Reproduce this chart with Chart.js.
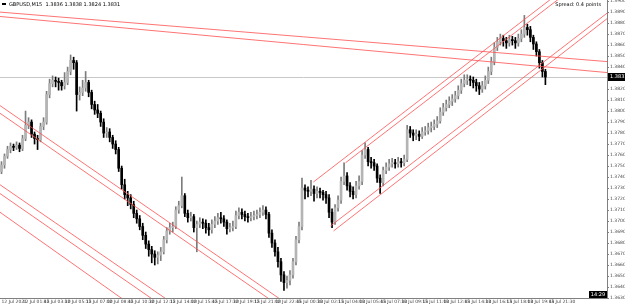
<!DOCTYPE html>
<html>
<head>
<meta charset="utf-8">
<script src="https://cdn.jsdelivr.net/npm/chart.js@4.4.1/dist/chart.umd.min.js"></script>
<style>
  html, body { margin: 0; padding: 0; background: #fff; }
  #wrap { width: 625px; height: 304px; }
</style>
</head>
<body>
<div id="wrap"><canvas id="grafico" width="625" height="304"></canvas></div>
<script>
// GBPUSD M15 candles
var opens = [
  1.3745,1.3751,1.3759,1.3765,1.3768,1.3767,1.3769,1.3766,1.3775,1.3787,
  1.3790,1.3779,1.3775,1.3774,1.3786,1.3790,1.3815,1.3825,1.3828,1.3827,
  1.3826,1.3823,1.3826,1.3836,1.3846,1.3844,1.3815,1.3817,1.3821,1.3826,
  1.3817,1.3806,1.3801,1.3798,1.3790,1.3780,1.3781,1.3776,1.3770,1.3765,
  1.3748,1.3733,1.3724,1.3721,1.3715,1.3707,1.3702,1.3695,1.3687,1.3679,
  1.3674,1.3670,1.3667,1.3669,1.3672,1.3683,1.3691,1.3694,1.3695,1.3710,
  1.3714,1.3723,1.3707,1.3703,1.3704,1.3694,1.3697,1.3699,1.3698,1.3694,
  1.3692,1.3697,1.3700,1.3703,1.3702,1.3699,1.3693,1.3694,1.3695,1.3705,
  1.3708,1.3706,1.3704,1.3703,1.3704,1.3705,1.3706,1.3708,1.3710,1.3706,
  1.3689,1.3680,1.3672,1.3663,1.3651,1.3644,1.3646,1.3651,1.3663,1.3683,
  1.3695,1.3730,1.3728,1.3727,1.3729,1.3725,1.3727,1.3726,1.3724,1.3721,
  1.3708,1.3699,1.3712,1.3719,1.3736,1.3741,1.3732,1.3727,1.3724,1.3732,
  1.3736,1.3760,1.3765,1.3754,1.3753,1.3750,1.3739,1.3735,1.3746,1.3749,
  1.3752,1.3753,1.3752,1.3754,1.3753,1.3756,1.3783,1.3780,1.3778,1.3779,
  1.3777,1.3781,1.3782,1.3785,1.3786,1.3788,1.3791,1.3799,1.3803,1.3806,
  1.3809,1.3811,1.3814,1.3819,1.3825,1.3828,1.3829,1.3828,1.3826,1.3823,
  1.3820,1.3823,1.3828,1.3836,1.3845,1.3858,1.3863,1.3866,1.3864,1.3862,
  1.3865,1.3864,1.3862,1.3866,1.3870,1.3876,1.3874,1.3867,1.3861,1.3854,
  1.3844,1.3836
];
var highs = [
  1.3754,1.3761,1.3768,1.3771,1.3770,1.3772,1.3771,1.3778,1.3800,1.3794,
  1.3792,1.3781,1.3778,1.3789,1.3794,1.3818,1.3829,1.3832,1.3831,1.3830,
  1.3828,1.3835,1.3840,1.3851,1.3849,1.3846,1.3822,1.3828,1.3836,1.3828,
  1.3819,1.3809,1.3806,1.3800,1.3793,1.3785,1.3784,1.3778,1.3773,1.3767,
  1.3750,1.3738,1.3727,1.3724,1.3718,1.3710,1.3705,1.3698,1.3690,1.3682,
  1.3677,1.3673,1.3672,1.3676,1.3686,1.3694,1.3698,1.3699,1.3713,1.3718,
  1.3740,1.3725,1.3710,1.3708,1.3706,1.3700,1.3703,1.3702,1.3701,1.3698,
  1.3701,1.3704,1.3707,1.3708,1.3705,1.3701,1.3698,1.3700,1.3709,1.3712,
  1.3711,1.3709,1.3707,1.3708,1.3709,1.3710,1.3712,1.3714,1.3713,1.3708,
  1.3692,1.3683,1.3676,1.3666,1.3654,1.3650,1.3655,1.3666,1.3686,1.3699,
  1.3739,1.3733,1.3731,1.3737,1.3732,1.3731,1.3730,1.3728,1.3727,1.3724,
  1.3711,1.3715,1.3723,1.3740,1.3753,1.3744,1.3735,1.3731,1.3736,1.3741,
  1.3764,1.3771,1.3767,1.3758,1.3756,1.3752,1.3742,1.3749,1.3753,1.3756,
  1.3757,1.3756,1.3758,1.3757,1.3760,1.3787,1.3786,1.3783,1.3783,1.3782,
  1.3785,1.3786,1.3789,1.3790,1.3792,1.3795,1.3803,1.3807,1.3810,1.3813,
  1.3815,1.3818,1.3823,1.3829,1.3833,1.3833,1.3832,1.3831,1.3829,1.3826,
  1.3827,1.3832,1.3840,1.3849,1.3862,1.3867,1.3870,1.3869,1.3867,1.3869,
  1.3868,1.3867,1.3870,1.3874,1.3887,1.3879,1.3877,1.3869,1.3863,1.3856,
  1.3846,1.3838
];
var lows = [
  1.3743,1.3748,1.3757,1.3762,1.3764,1.3765,1.3763,1.3764,1.3773,1.3784,
  1.3776,1.3770,1.3765,1.3772,1.3783,1.3788,1.3812,1.3822,1.3822,1.3819,
  1.3819,1.3820,1.3824,1.3833,1.3838,1.3800,1.3810,1.3814,1.3818,1.3813,
  1.3802,1.3797,1.3794,1.3786,1.3776,1.3776,1.3772,1.3766,1.3761,1.3745,
  1.3729,1.3720,1.3714,1.3711,1.3703,1.3698,1.3692,1.3683,1.3675,1.3668,
  1.3662,1.3660,1.3661,1.3664,1.3670,1.3680,1.3688,1.3690,1.3693,1.3707,
  1.3712,1.3704,1.3699,1.3700,1.3690,1.3672,1.3694,1.3693,1.3689,1.3687,
  1.3689,1.3694,1.3697,1.3698,1.3695,1.3688,1.3690,1.3691,1.3693,1.3702,
  1.3702,1.3700,1.3699,1.3700,1.3701,1.3702,1.3703,1.3705,1.3702,1.3685,
  1.3676,1.3668,1.3658,1.3645,1.3637,1.3639,1.3642,1.3648,1.3660,1.3680,
  1.3692,1.3720,1.3722,1.3723,1.3718,1.3721,1.3721,1.3719,1.3716,1.3703,
  1.3694,1.3697,1.3709,1.3716,1.3733,1.3728,1.3722,1.3720,1.3721,1.3729,
  1.3733,1.3757,1.3750,1.3748,1.3746,1.3735,1.3725,1.3732,1.3743,1.3746,
  1.3749,1.3748,1.3749,1.3749,1.3750,1.3754,1.3776,1.3773,1.3774,1.3773,
  1.3775,1.3778,1.3779,1.3781,1.3783,1.3785,1.3789,1.3796,1.3800,1.3803,
  1.3805,1.3808,1.3811,1.3816,1.3822,1.3824,1.3823,1.3821,1.3818,1.3815,
  1.3817,1.3820,1.3825,1.3833,1.3842,1.3855,1.3860,1.3859,1.3857,1.3859,
  1.3860,1.3857,1.3859,1.3863,1.3867,1.3869,1.3863,1.3856,1.3850,1.3839,
  1.3831,1.3824
];
var closes = [
  1.3751,1.3759,1.3765,1.3768,1.3767,1.3769,1.3766,1.3775,1.3787,1.3790,
  1.3779,1.3775,1.3774,1.3786,1.3790,1.3815,1.3825,1.3828,1.3827,1.3826,
  1.3823,1.3826,1.3836,1.3846,1.3844,1.3815,1.3817,1.3821,1.3826,1.3817,
  1.3806,1.3801,1.3798,1.3790,1.3780,1.3781,1.3776,1.3770,1.3765,1.3748,
  1.3733,1.3724,1.3721,1.3715,1.3707,1.3702,1.3695,1.3687,1.3679,1.3674,
  1.3670,1.3667,1.3669,1.3672,1.3683,1.3691,1.3694,1.3695,1.3710,1.3714,
  1.3723,1.3707,1.3703,1.3704,1.3694,1.3697,1.3699,1.3698,1.3694,1.3692,
  1.3697,1.3700,1.3703,1.3702,1.3699,1.3693,1.3694,1.3695,1.3705,1.3708,
  1.3706,1.3704,1.3703,1.3704,1.3705,1.3706,1.3708,1.3710,1.3706,1.3689,
  1.3680,1.3672,1.3663,1.3651,1.3644,1.3646,1.3651,1.3663,1.3683,1.3695,
  1.3730,1.3728,1.3727,1.3729,1.3725,1.3727,1.3726,1.3724,1.3721,1.3708,
  1.3699,1.3712,1.3719,1.3736,1.3741,1.3732,1.3727,1.3724,1.3732,1.3736,
  1.3760,1.3765,1.3754,1.3753,1.3750,1.3739,1.3735,1.3746,1.3749,1.3752,
  1.3753,1.3752,1.3754,1.3753,1.3756,1.3783,1.3780,1.3778,1.3779,1.3777,
  1.3781,1.3782,1.3785,1.3786,1.3788,1.3791,1.3799,1.3803,1.3806,1.3809,
  1.3811,1.3814,1.3819,1.3825,1.3828,1.3829,1.3828,1.3826,1.3823,1.3820,
  1.3823,1.3828,1.3836,1.3845,1.3858,1.3863,1.3866,1.3864,1.3862,1.3865,
  1.3864,1.3862,1.3866,1.3870,1.3876,1.3874,1.3867,1.3861,1.3854,1.3844,
  1.3836,1.3831
];

// time axis: one label every 7 bars
var tickLabels = [
  "12 Jul 2021","12 Jul 01:45","12 Jul 03:30","12 Jul 05:15","12 Jul 07:00",
  "12 Jul 08:45","12 Jul 10:30","12 Jul 12:15","12 Jul 14:00","12 Jul 15:45",
  "12 Jul 17:30","12 Jul 19:15","12 Jul 21:00","12 Jul 22:45","13 Jul 00:30",
  "13 Jul 02:15","13 Jul 04:00","13 Jul 05:45","13 Jul 07:30","13 Jul 09:15",
  "13 Jul 11:00","13 Jul 12:45","13 Jul 14:30","13 Jul 16:15","13 Jul 18:00",
  "13 Jul 19:45","13 Jul 21:30"
];
var barsPerLabel = 7;
var totalSlots = 202; // bars + empty space on the right (chart shift)

var priceTicks = [
  1.3630,1.3640,1.3650,1.3660,1.3670,1.3680,1.3690,1.3700,1.3710,1.3720,
  1.3730,1.3740,1.3750,1.3760,1.3770,1.3780,1.3790,1.3800,1.3810,1.3820,
  1.3830,1.3840,1.3850,1.3860,1.3870,1.3880,1.3890,1.3900
];

// trendlines drawn on the chart: [barIndex, price] pairs
var trendlines = [
  [[-0.5, 1.3890], [201.5, 1.3845]],
  [[-0.5, 1.3886], [201.5, 1.3835]],
  [[109.5, 1.36955], [201.5, 1.3889]],
  [[110.5, 1.3691], [201.5, 1.3884]],
  [[103.8, 1.37355], [190.5, 1.3918]],
  [[114.5, 1.3753], [195, 1.3922]],
  [[-0.5, 1.3805], [98, 1.3619]],
  [[-0.5, 1.3798], [95, 1.3618]],
  [[-0.5, 1.3733], [60.2, 1.3619]],
  [[-0.5, 1.3725], [55.5, 1.3619]],
  [[-0.5, 1.3708], [45.5, 1.3619]]
];

var symbolText = "GBPUSD,M15";
var spreadText = "Spread: 0.4 points";
var clockText = "14:29";

var corAlta = "#b4b4b4";
var corBaixa = "#000000";
var pavioAlta = "#7c7c7c";

var n = closes.length;
var last = n - 1;

var corpos = [];
var pavios = [];
for (var i = 0; i < n; i++) {
  corpos.push({ x: i, y: [opens[i], closes[i]] });
  pavios.push({ x: i, y: [lows[i], highs[i]] });
}

function subiu(i) { return closes[i] >= opens[i]; }

var linhas = trendlines.map(function (t) {
  return {
    type: "line",
    data: t.map(function (p) { return { x: p[0], y: p[1] }; }),
    borderColor: "rgba(255, 80, 80, 0.8)",
    borderWidth: 1,
    pointRadius: 0,
    fill: false,
    tension: 0
  };
});

// no extra padding from the labels: plot goes edge to edge like the terminal
function semPadding(scale) {
  scale.paddingLeft = 0;
  scale.paddingRight = 0;
  scale.paddingTop = 0;
  scale.paddingBottom = 0;
}

// extra drawing: bid line, price box, header texts
var extras = {
  id: "extras",
  beforeDatasetsDraw: function (chart) {
    var ctx = chart.ctx, a = chart.chartArea;
    var y = Math.round(chart.scales.y.getPixelForValue(closes[last])) + 0.5;
    ctx.save();
    ctx.strokeStyle = "#c8c8c8";
    ctx.lineWidth = 1;
    ctx.beginPath();
    ctx.moveTo(a.left, y);
    ctx.lineTo(a.right, y);
    ctx.stroke();
    ctx.restore();
  },
  afterDraw: function (chart) {
    var ctx = chart.ctx, a = chart.chartArea;
    var y = Math.round(chart.scales.y.getPixelForValue(closes[last]));
    ctx.save();
    // current price box
    ctx.fillStyle = "#000";
    ctx.fillRect(a.right + 1, y - 4, 625 - a.right - 1, 8);
    ctx.fillStyle = "#fff";
    ctx.font = "5px 'DejaVu Sans'";
    ctx.textBaseline = "middle";
    ctx.textAlign = "left";
    ctx.fillText(closes[last].toFixed(4), a.right + 3, y);
    // header
    ctx.fillStyle = "#000";
    ctx.fillRect(2, 3, 4, 2);
    ctx.font = "5px 'DejaVu Sans'";
    ctx.textBaseline = "top";
    ctx.fillText(symbolText + "  " + opens[last].toFixed(4) + " " + highs[last].toFixed(4) + " " +
      lows[last].toFixed(4) + " " + closes[last].toFixed(4), 9, 2);
    ctx.textAlign = "right";
    ctx.fillText(spreadText, a.right - 6, 2);
    // clock box bottom right
    ctx.fillStyle = "#000";
    ctx.fillRect(a.right - 18, a.bottom - 7, 18, 7);
    ctx.fillStyle = "#fff";
    ctx.textAlign = "center";
    ctx.textBaseline = "middle";
    ctx.fillText(clockText, a.right - 9, a.bottom - 3.5);
    ctx.restore();
  }
};

new Chart(document.getElementById("grafico").getContext("2d"), {
  type: "bar",
  data: {
    datasets: linhas.concat([
      {
        data: corpos,
        backgroundColor: function (c) { return subiu(c.dataIndex) ? corAlta : corBaixa; },
        barThickness: 2,
        minBarLength: 1,
        grouped: false
      },
      {
        data: pavios,
        backgroundColor: function (c) { return subiu(c.dataIndex) ? pavioAlta : corBaixa; },
        barThickness: 1,
        grouped: false
      }
    ])
  },
  options: {
    responsive: false,
    animation: false,
    devicePixelRatio: 1,
    layout: { padding: 0 },
    plugins: {
      legend: { display: false },
      tooltip: { enabled: false },
      title: { display: false }
    },
    scales: {
      x: {
        type: "linear",
        offset: false,
        min: -0.5,
        max: totalSlots - 0.5,
        afterBuildTicks: function (scale) {
          scale.ticks = tickLabels.map(function (t, k) { return { value: k * barsPerLabel }; });
        },
        afterFit: function (scale) { scale.height = 6; semPadding(scale); },
        grid: { display: true, offset: false, drawOnChartArea: false, tickLength: 1, color: "#808080" },
        border: { display: true, color: "#808080" },
        ticks: {
          autoSkip: false,
          maxRotation: 0,
          align: "start",
          padding: 0,
          color: "#444",
          font: { family: "DejaVu Sans", size: 4.5 },
          callback: function (v) { return tickLabels[Math.round(v / barsPerLabel)]; }
        }
      },
      y: {
        position: "right",
        min: 1.3630,
        max: 1.3901,
        afterBuildTicks: function (scale) {
          scale.ticks = priceTicks.map(function (v) { return { value: v }; });
        },
        afterFit: function (scale) { scale.width = 18; semPadding(scale); },
        grid: { display: true, drawOnChartArea: false, tickLength: 2, color: "#808080" },
        border: { display: true, color: "#808080" },
        ticks: {
          padding: 1,
          color: "#444",
          font: { family: "DejaVu Sans", size: 4.5 },
          callback: function (v) { return v.toFixed(4); }
        }
      }
    }
  },
  plugins: [extras]
});
</script>
</body>
</html>
